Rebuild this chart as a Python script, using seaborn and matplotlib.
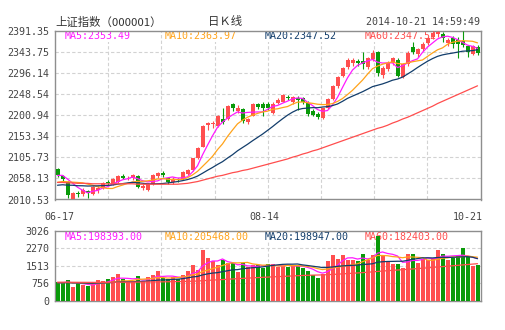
import numpy as np
import pandas as pd
import matplotlib
matplotlib.use("Agg")
import matplotlib.pyplot as plt
import matplotlib.transforms as mtransforms
import seaborn as sns

# ---------------- data ----------------
title_left = "上证指数（000001）"
title_mid = "日Ｋ线"
title_right = "2014-10-21 14:59:49"

holidays = ["2014-09-08", "2014-10-01", "2014-10-02", "2014-10-03", "2014-10-06", "2014-10-07"]
dates = [d.strftime("%m-%d") for d in pd.bdate_range("2014-06-17", "2014-10-21")
         if d.strftime("%Y-%m-%d") not in holidays]

opens = [2079, 2064, 2050, 2012, 2026, 2022, 2030, 2023, 2033, 2036,
         2050, 2046, 2050, 2064, 2058, 2058, 2064, 2037, 2031, 2046,
         2064, 2070, 2058, 2050, 2057, 2057, 2068, 2076, 2104, 2130,
         2178, 2180, 2177, 2192, 2192, 2226, 2210, 2215, 2186, 2200,
         2226, 2226, 2225, 2205, 2228, 2231, 2241, 2230, 2240, 2239,
         2228, 2210, 2204, 2195, 2217, 2238, 2266, 2290, 2309, 2318,
         2322, 2322, 2310, 2327, 2343, 2292, 2304, 2318, 2326, 2288,
         2316, 2355, 2339, 2350, 2364, 2378, 2383, 2385, 2364, 2376,
         2370, 2368, 2356, 2338, 2355]
highs = [2082, 2066, 2052, 2027, 2029, 2036, 2032, 2041, 2040, 2050,
         2054, 2058, 2066, 2067, 2064, 2068, 2066, 2045, 2048, 2069,
         2073, 2075, 2062, 2062, 2060, 2075, 2080, 2105, 2128, 2178,
         2186, 2188, 2202, 2218, 2224, 2228, 2224, 2218, 2195, 2228,
         2229, 2231, 2230, 2230, 2240, 2248, 2246, 2244, 2244, 2242,
         2232, 2215, 2208, 2218, 2240, 2268, 2290, 2309, 2330, 2330,
         2327, 2344, 2333, 2347, 2346, 2311, 2322, 2333, 2330, 2318,
         2345, 2365, 2352, 2365, 2380, 2390, 2391.35, 2388, 2375, 2380,
         2378, 2390, 2360, 2360, 2360]
lows = [2062, 2052, 2015, 2010.53, 2017, 2019, 2014, 2021, 2025, 2034,
        2044, 2044, 2048, 2057, 2055, 2054, 2036, 2033, 2029, 2044,
        2060, 2062, 2045, 2046, 2050, 2055, 2065, 2074, 2102, 2128,
        2168, 2172, 2175, 2181, 2190, 2211, 2206, 2182, 2180, 2198,
        2214, 2200, 2212, 2203, 2225, 2230, 2234, 2226, 2213, 2226,
        2200, 2198, 2192, 2193, 2215, 2236, 2262, 2286, 2305, 2312,
        2312, 2306, 2306, 2322, 2290, 2285, 2300, 2314, 2286, 2285,
        2312, 2338, 2332, 2346, 2360, 2372, 2378, 2366, 2357, 2352,
        2330, 2355, 2331, 2336, 2336]
closes = [2066, 2056, 2021, 2026, 2022, 2033, 2026, 2038, 2036, 2048,
          2048, 2056, 2063, 2060, 2060, 2066, 2039, 2040, 2046, 2066,
          2071, 2065, 2049, 2056, 2054, 2073, 2076, 2104, 2126, 2177,
          2182, 2182, 2200, 2185, 2222, 2218, 2216, 2187, 2192, 2225,
          2220, 2216, 2216, 2226, 2235, 2246, 2239, 2242, 2236, 2230,
          2203, 2202, 2196, 2217, 2238, 2266, 2288, 2307, 2326, 2326,
          2318, 2316, 2330, 2342, 2296, 2308, 2318, 2330, 2289, 2316,
          2340, 2344, 2350, 2362, 2376, 2386, 2389, 2374, 2370, 2362,
          2361, 2358, 2343, 2356, 2340]
# closes of the 19 sessions before 06-17 (estimated from the MA levels at the left edge)
pre_closes = [2034, 2040, 2030, 2042, 2036, 2038, 2034, 2030, 2040, 2036,
              2039, 2026, 2035, 2029, 2041, 2055, 2063, 2071, 2069]
# MA60 of the close
ma60_close = [2049, 2049, 2048, 2048, 2047, 2047, 2047, 2046, 2046, 2046,
              2046, 2046, 2046, 2046, 2046, 2046, 2045, 2045, 2045, 2045,
              2045, 2045, 2045, 2045, 2045, 2046, 2047, 2049, 2051, 2054,
              2057, 2060, 2063, 2065, 2068, 2071, 2073, 2076, 2078, 2081,
              2084, 2087, 2090, 2093, 2096, 2099, 2102, 2106, 2109, 2113,
              2116, 2120, 2123, 2127, 2131, 2135, 2139, 2143, 2147, 2151,
              2155, 2159, 2163, 2167, 2171, 2174, 2178, 2183, 2187, 2192,
              2196, 2201, 2206, 2211, 2216, 2221, 2227, 2232, 2237, 2242,
              2247, 2252, 2257, 2262, 2267]

volumes = [810, 800, 880, 600, 760, 660, 640, 720, 900, 860,
           920, 1020, 1150, 920, 820, 820, 1060, 840, 1020, 1100,
           1280, 1000, 920, 1010, 920, 1130, 1300, 1540, 1320, 2190,
           1830, 1700, 1540, 1760, 1610, 1620, 1230, 1630, 1440, 1560,
           1560, 1400, 1600, 1580, 1450, 1560, 1470, 1530, 1480, 1420,
           1300, 1120, 960, 1160, 1720, 1980, 1820, 1960, 1760, 1760,
           1700, 2040, 1780, 1960, 2790, 1960, 1720, 1600, 1600, 1420,
           2040, 2040, 1610, 1800, 1760, 1860, 2180, 2040, 1760, 1850,
           1920, 2270, 1880, 1500, 1530]
pre_volumes = [760, 820, 700, 790, 740, 810, 770, 720, 800, 760,
               830, 750, 790, 720, 780, 810, 760, 740, 790]
ma60_volume = [800, 800, 798, 796, 795, 794, 793, 792, 792, 793,
               794, 796, 798, 800, 801, 802, 804, 806, 808, 810,
               813, 816, 819, 822, 826, 830, 836, 843, 850, 865,
               878, 890, 902, 915, 928, 940, 952, 964, 976, 988,
               1000, 1010, 1020, 1030, 1040, 1050, 1060, 1070, 1080, 1090,
               1098, 1105, 1110, 1116, 1125, 1136, 1148, 1160, 1173, 1186,
               1200, 1214, 1230, 1246, 1265, 1282, 1298, 1312, 1326, 1340,
               1356, 1372, 1388, 1404, 1420, 1438, 1456, 1474, 1492, 1510,
               1528, 1546, 1564, 1582, 1600]

price_ticks = [2010.53, 2058.13, 2105.73, 2153.34, 2200.94, 2248.54, 2296.14, 2343.75, 2391.35]
price_tick_labels = ["2010.53", "2058.13", "2105.73", "2153.34", "2200.94",
                     "2248.54", "2296.14", "2343.75", "2391.35"]
vol_ticks = [0, 756, 1513, 2270, 3026]
vol_tick_labels = ["0", "756", "1513", "2270", "3026"]

price_legend = ["MA5:2353.49", "MA10:2363.97", "MA20:2347.52", "MA60:2347.52"]
vol_legend = ["MA5:198393.00", "MA10:205468.00", "MA20:198947.00", "MA60:182403.00"]

# ---------------- style ----------------
sns.set_theme(style="white")
plt.rcParams["font.family"] = ["DejaVu Sans Mono", "Noto Sans CJK SC"]

RED = "#ff4f4f"
GREEN = "#0a9a0a"
MA_COLORS = ["#ff1aff", "#ffa31a", "#123d6b", "#ff4d4d"]
GRID = "#d2d2d2"
TXT = "#444444"
FRAME = "#8e8e8e"
FS = 7.2

W, H = 505, 330
fig = plt.figure(figsize=(W / 100, H / 100), dpi=100)


def rect(l, t, r, b):
    return [l / W, 1 - b / H, (r - l) / W, (b - t) / H]


ax = fig.add_axes(rect(55, 30.7, 480.5, 199.5))
axv = fig.add_axes(rect(55, 230.7, 480.5, 300.7))

idx = np.arange(len(closes))
o = np.array(opens, float)
c = np.array(closes, float)
hi = np.array(highs, float)
lo = np.array(lows, float)
up = c >= o
cols = np.where(up, RED, GREEN)

all_close = pd.Series(pre_closes + closes, dtype=float)
n_pre = len(pre_closes)
ma_close = [all_close.rolling(w).mean().to_numpy()[n_pre:] for w in (5, 10, 20)]
ma_close.append(np.array(ma60_close, float))

all_vol = pd.Series(pre_volumes + volumes, dtype=float)
ma_vol = [all_vol.rolling(w).mean().to_numpy()[n_pre:] for w in (5, 10, 20)]
ma_vol.append(np.array(ma60_volume, float))

XL = (-0.5, 84.6)

# ---- main panel ----
ax.set_xlim(*XL)
ax.set_ylim(price_ticks[0], price_ticks[-1])
for k in range(1, 8):
    ax.axvline(XL[0] + k * (XL[1] - XL[0]) / 8, color=GRID, lw=0.8, ls=(0, (3, 2)), zorder=0.5)
for t in price_ticks[1:-1]:
    ax.axhline(t, color=GRID, lw=0.8, ls=(0, (3, 2)), zorder=0.5)

ax.vlines(idx, lo, hi, colors=cols, lw=0.8, zorder=3)
ax.bar(idx, np.maximum(np.abs(c - o), 0.7), bottom=np.minimum(o, c), width=0.8,
       color=cols, linewidth=0, zorder=3)
for ma, colr in zip(ma_close, MA_COLORS):
    sns.lineplot(x=idx, y=ma, ax=ax, color=colr, lw=0.9, zorder=4)

ax.set_xlim(*XL)
ax.set_ylim(price_ticks[0], price_ticks[-1])
ax.set_yticks(price_ticks)
ax.set_yticklabels(price_tick_labels, fontsize=FS, color=TXT)
ax.set_xticks([])
ax.tick_params(axis="y", length=0, pad=4)
ax.set_xlabel("")
ax.set_ylabel("")

trans = mtransforms.blended_transform_factory(ax.transData, ax.transAxes)
ax.text(idx[0] + 0.3, -0.102, dates[0], transform=trans, ha="center", va="center", fontsize=FS, color=TXT)
mid = len(dates) // 2
ax.text(idx[mid] - 0.7, -0.102, dates[mid], transform=trans, ha="center", va="center", fontsize=FS, color=TXT)
ax.text(1.006, -0.102, dates[-1], transform=ax.transAxes, ha="right", va="center", fontsize=FS, color=TXT)

for k, (lab, colr) in enumerate(zip(price_legend, MA_COLORS)):
    ax.text((65 + 100 * k - 55) / 426, 0.966, lab, transform=ax.transAxes, ha="left", va="center",
            fontsize=FS, color=colr, zorder=2,
            bbox=dict(facecolor="white", edgecolor="none", pad=0.6))

# ---- volume panel ----
updown = np.where(up, "up", "down")
sns.barplot(x=idx, y=volumes, hue=updown, palette={"up": RED, "down": GREEN},
            native_scale=True, dodge=False, width=0.8, errorbar=None, legend=False,
            saturation=1, linewidth=0, ax=axv, zorder=3)
for ma, colr in zip(ma_vol, MA_COLORS):
    sns.lineplot(x=idx, y=ma, ax=axv, color=colr, lw=0.9, zorder=4)

axv.set_xlim(*XL)
axv.set_ylim(vol_ticks[0], vol_ticks[-1])
for k in (2, 4, 6):
    axv.axvline(XL[0] + k * (XL[1] - XL[0]) / 8, color=GRID, lw=0.8, ls=(0, (3, 2)), zorder=0.5)
for t in vol_ticks[1:-1]:
    axv.axhline(t, color=GRID, lw=0.8, ls=(0, (3, 2)), zorder=0.5)
axv.set_yticks(vol_ticks)
axv.set_yticklabels(vol_tick_labels, fontsize=FS, color=TXT)
axv.set_xticks([])
axv.tick_params(axis="y", length=0, pad=4)
axv.set_xlabel("")
axv.set_ylabel("")

for k, (lab, colr) in enumerate(zip(vol_legend, MA_COLORS)):
    axv.text((65 + 100 * k - 55) / 426, 0.915, lab, transform=axv.transAxes, ha="left", va="center",
             fontsize=FS, color=colr, zorder=2,
             bbox=dict(facecolor="white", edgecolor="none", pad=0.6))

for a in (ax, axv):
    a.set_facecolor("white")
    for s in a.spines.values():
        s.set_color(FRAME)
        s.set_linewidth(1.0)
        s.set_visible(True)

# ---- header ----
fig.text(55 / W, 1 - 22 / H, title_left, ha="left", va="center", fontsize=8.2,
         color="#333333", family=["Noto Sans CJK SC", "DejaVu Sans"])
fig.text(225 / W, 1 - 22 / H, title_mid, ha="center", va="center", fontsize=8.2,
         color="#333333", family=["Noto Sans CJK SC", "DejaVu Sans"])
fig.text(480 / W, 1 - 22 / H, title_right, ha="right", va="center", fontsize=FS, color=TXT)

fig.savefig("out.png", dpi=100, facecolor="white")
